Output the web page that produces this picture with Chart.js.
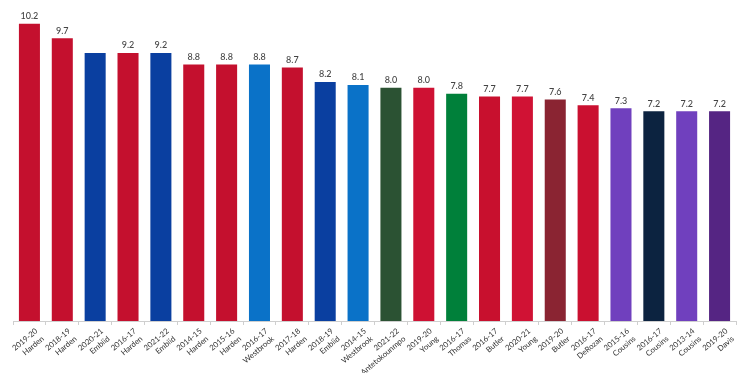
<!DOCTYPE html>
<html>
<head>
<meta charset="utf-8">
<script src="https://cdn.jsdelivr.net/npm/chart.js@4/dist/chart.umd.min.js"></script>
<style>
html,body{margin:0;padding:0;background:#fff;}
#wrap{width:750px;height:373px;position:relative;}
</style>
</head>
<body>
<div id="wrap"><canvas id="c" width="750" height="373"></canvas></div>
<script>
const seasons = ['2019-20','2018-19','2020-21','2016-17','2021-22','2014-15','2015-16','2016-17','2017-18','2018-19','2014-15','2021-22','2019-20','2016-17','2016-17','2020-21','2019-20','2016-17','2015-16','2016-17','2013-14','2019-20'];
const players = ['Harden','Harden','Embiid','Harden','Embiid','Harden','Harden','Westbrook','Harden','Embiid','Westbrook','Antetokounmpo','Young','Thomas','Butler','Young','Butler','DeRozan','Cousins','Cousins','Cousins','Davis'];
const values = [10.2,9.7,9.2,9.2,9.2,8.8,8.8,8.8,8.7,8.2,8.1,8.0,8.0,7.8,7.7,7.7,7.6,7.4,7.3,7.2,7.2,7.2];
const valueLabels = ['10.2','9.7','','9.2','9.2','8.8','8.8','8.8','8.7','8.2','8.1','8.0','8.0','7.8','7.7','7.7','7.6','7.4','7.3','7.2','7.2','7.2'];
const barColors = ['#C4102E','#C4102E','#0A3FA0','#C4102E','#0A3FA0','#C4102E','#C4102E','#0A72C8','#C4102E','#0A3FA0','#0A72C8','#2B5233','#CE1133','#00803A','#C8102E','#D01234','#8A2432','#CA1030','#7040BE','#0C2340','#7040BE','#552583'];

const categories = seasons.map((s,i)=>[s, players[i]]);

const valueLabelPlugin = {
  id:'valueLabels',
  afterDatasetsDraw(chart){
    const ctx = chart.ctx;
    const meta = chart.getDatasetMeta(0);
    ctx.save();
    ctx.font = '500 9px Lato, "Open Sans", sans-serif';
    ctx.fillStyle = '#444';
    ctx.textAlign = 'center';
    ctx.textBaseline = 'bottom';
    meta.data.forEach((bar,i)=>{
      if (valueLabels[i]) ctx.fillText(valueLabels[i], bar.x, bar.y - 3);
    });
    ctx.restore();
  }
};

new Chart(document.getElementById('c'), {
  type:'bar',
  data:{
    labels: categories,
    datasets:[{
      data: values,
      backgroundColor: barColors,
      borderWidth:0,
      barPercentage:0.64,
      categoryPercentage:1.0
    }]
  },
  options:{
    responsive:false,
    animation:false,
    layout:{padding:{left:13,right:14,top:15,bottom:0}},
    plugins:{legend:{display:false},tooltip:{enabled:false}},
    scales:{
      x:{
        offset:true,
        border:{display:true,color:'#cfcfcf',width:1},
        grid:{display:true,offset:true,drawOnChartArea:false,drawTicks:true,tickLength:4,color:'#cfcfcf'},
        ticks:{
          autoSkip:false,
          maxRotation:40,minRotation:40,
          color:'#333',
          padding:1,
          labelOffset:7,
          font:{family:'Lato, "Open Sans", sans-serif',size:7.8,lineHeight:1.3}
        },
        afterFit(scale){ scale.height = 52; }
      },
      y:{
        display:false,
        min:0,max:10.5
      }
    }
  },
  plugins:[valueLabelPlugin]
});
</script>
</body>
</html>
